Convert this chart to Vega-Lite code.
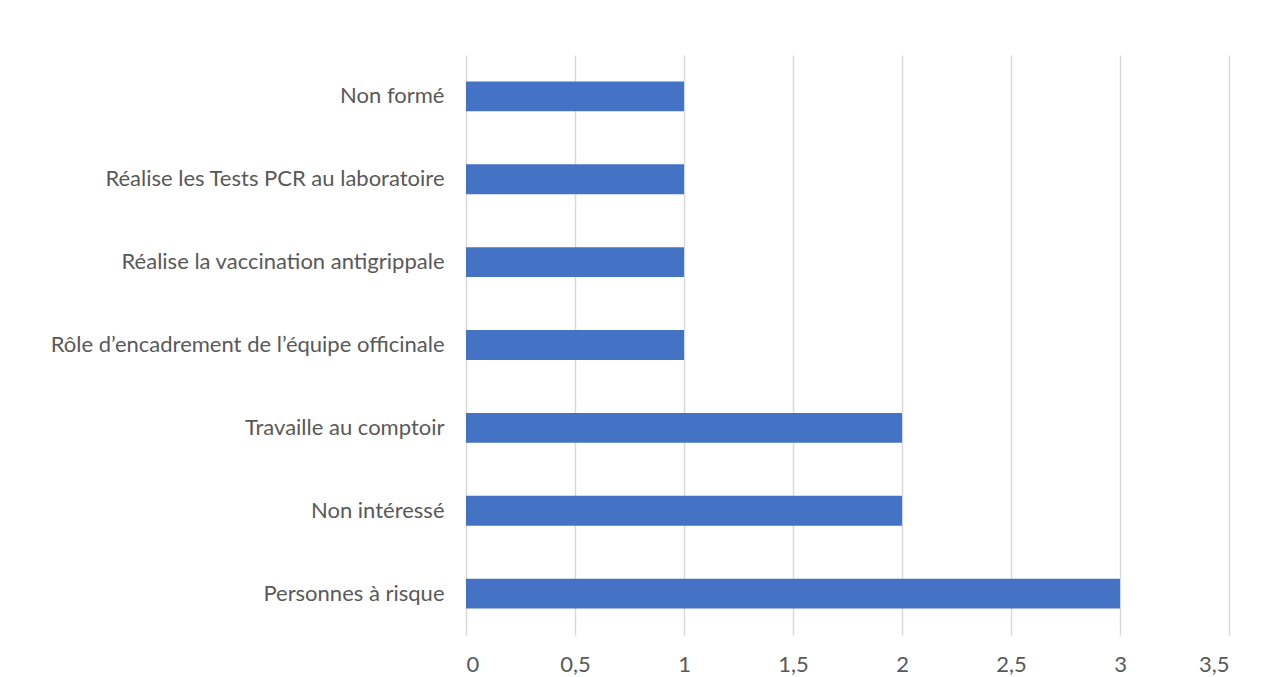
{
  "$schema": "https://vega.github.io/schema/vega-lite/v6.json",
  "autosize": "none",
  "width": 763,
  "height": 580,
  "padding": {"left": 466, "top": 55, "right": 35, "bottom": 42},
  "background": "white",
  "data": {
    "values": [
      {"categorie": "Non formé", "valeur": 1},
      {"categorie": "Réalise les Tests PCR au laboratoire", "valeur": 1},
      {"categorie": "Réalise la vaccination antigrippale", "valeur": 1},
      {"categorie": "Rôle d’encadrement de l’équipe officinale", "valeur": 1},
      {"categorie": "Travaille au comptoir", "valeur": 2},
      {"categorie": "Non intéressé", "valeur": 2},
      {"categorie": "Personnes à risque", "valeur": 3}
    ]
  },
  "mark": {"type": "bar", "color": "#4472C4"},
  "encoding": {
    "y": {
      "field": "categorie",
      "type": "nominal",
      "sort": null,
      "scale": {"paddingInner": 0.64, "paddingOuter": 0.32},
      "axis": {
        "title": null,
        "ticks": false,
        "domain": false,
        "labelPadding": 22,
        "labelFont": "Lato",
        "labelFontSize": 22,
        "labelColor": "#595959",
        "labelLimit": 500
      }
    },
    "x": {
      "field": "valeur",
      "type": "quantitative",
      "scale": {"domain": [0, 3.5], "nice": false},
      "axis": {
        "title": null,
        "values": [0, 0.5, 1, 1.5, 2, 2.5, 3, 3.5],
        "format": ",.1~f",
        "labelExpr": "replace(datum.label, '.', ',')",
        "ticks": false,
        "domain": false,
        "grid": true,
        "gridColor": "#d9d9d9",
        "gridWidth": 1.5,
        "labelPadding": 19,
        "labelFont": "Lato",
        "labelFontSize": 22,
        "labelColor": "#595959"
      }
    }
  },
  "config": {"view": {"stroke": null}}
}
